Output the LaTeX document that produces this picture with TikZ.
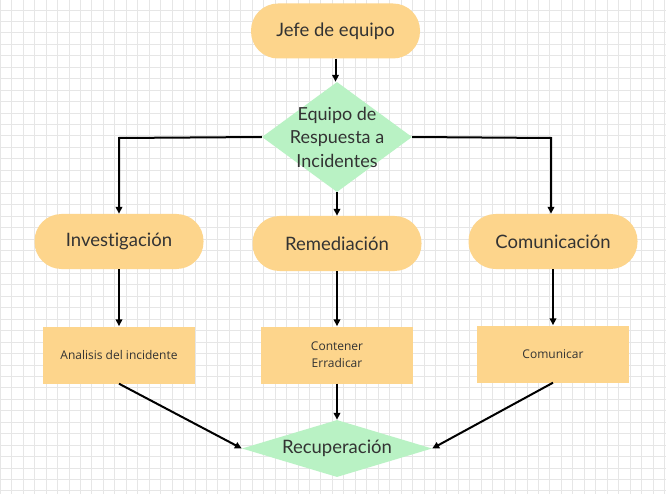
\documentclass[tikz,border=0pt]{standalone}
\usepackage{fontspec}
\setmainfont{Lato}[Ligatures={NoCommon}]
\newfontfamily\smallfont{Open Sans}
\usetikzlibrary{shapes.geometric,arrows.meta}
\definecolor{orangefill}{HTML}{FDD58C}
\definecolor{greenfill}{HTML}{B9F2C4}
\definecolor{gridline}{HTML}{E6E6E6}
\definecolor{txt}{HTML}{333333}
\tikzset{
  stadium/.style={draw=none, fill=orangefill, rectangle, rounded corners=27pt,
    minimum width=169pt, minimum height=55pt, text=txt, font=\fontsize{18.5}{22}\selectfont},
  taskbox/.style={draw=none, fill=orangefill, rectangle, minimum width=152pt,
    minimum height=57pt, text=txt, align=center, font=\smallfont\fontsize{12}{17}\selectfont},
  decision/.style={draw=none, fill=greenfill, diamond, inner sep=0pt},
  conn/.style={line width=2pt, black, -{Triangle[length=7pt,width=6.5pt]}},
}
\begin{document}
\begin{tikzpicture}[x=1pt,y=-1pt]
\useasboundingbox (0,0) rectangle (666,494);
\fill[white] (0,0) rectangle (666,494);
\foreach \i in {0,...,58} {
  \draw[gridline, line width=0.9pt] ({0.3+11.45*\i},0) -- ({0.3+11.45*\i},494);
}
\foreach \j in {0,...,43} {
  \draw[gridline, line width=0.9pt] (0,{-1.45+11.45*\j}) -- (666,{-1.45+11.45*\j});
}
% nodes
\node[stadium] (jefe) at (335.5,31) {Jefe de equipo};
\node[decision, minimum width=150pt, minimum height=110pt,
  label={[text=txt, align=center, font=\fontsize{18}{23.5}\selectfont]center:Equipo de\\Respuesta a\\Incidentes}] (ert) at (337,137) {};
\node[stadium] (inv) at (119,241.5) {Investigación};
\node[stadium] (rem) at (337,243.5) {Remediación};
\node[stadium] (com) at (553,241.5) {Comunicación};
\node[taskbox] (ana) at (119,355) {Analisis del incidente};
\node[taskbox] (cont) at (337,355) {Contener\\Erradicar};
\node[taskbox] (comu) at (553,354) {Comunicar};
\node[decision, minimum width=190pt, minimum height=57pt,
  label={[text=txt, font=\fontsize{18.5}{22}\selectfont]center:Recuperación}] (rec) at (337,448.5) {};
% connectors
\coordinate (lc) at (119,138);
\coordinate (rc) at (551,138);
\draw[conn] (jefe.south) -- (jefe.south |- ert.north);
\draw[conn] (ert.west) -- (lc) -- (inv.north);
\draw[conn] (ert.east) -- (rc) -- (rc |- com.north);
\draw[conn] (ert.south) -- (rem.north);
\draw[conn] (inv.south) -- (ana.north);
\draw[conn] (rem.south) -- (cont.north);
\draw[conn] (com.south) -- (comu.north);
\draw[conn] (ana.south) -- (rec.west);
\draw[conn] (cont.south) -- (rec.north);
\draw[conn] (comu.south) -- (rec.east);
\end{tikzpicture}
\end{document}
